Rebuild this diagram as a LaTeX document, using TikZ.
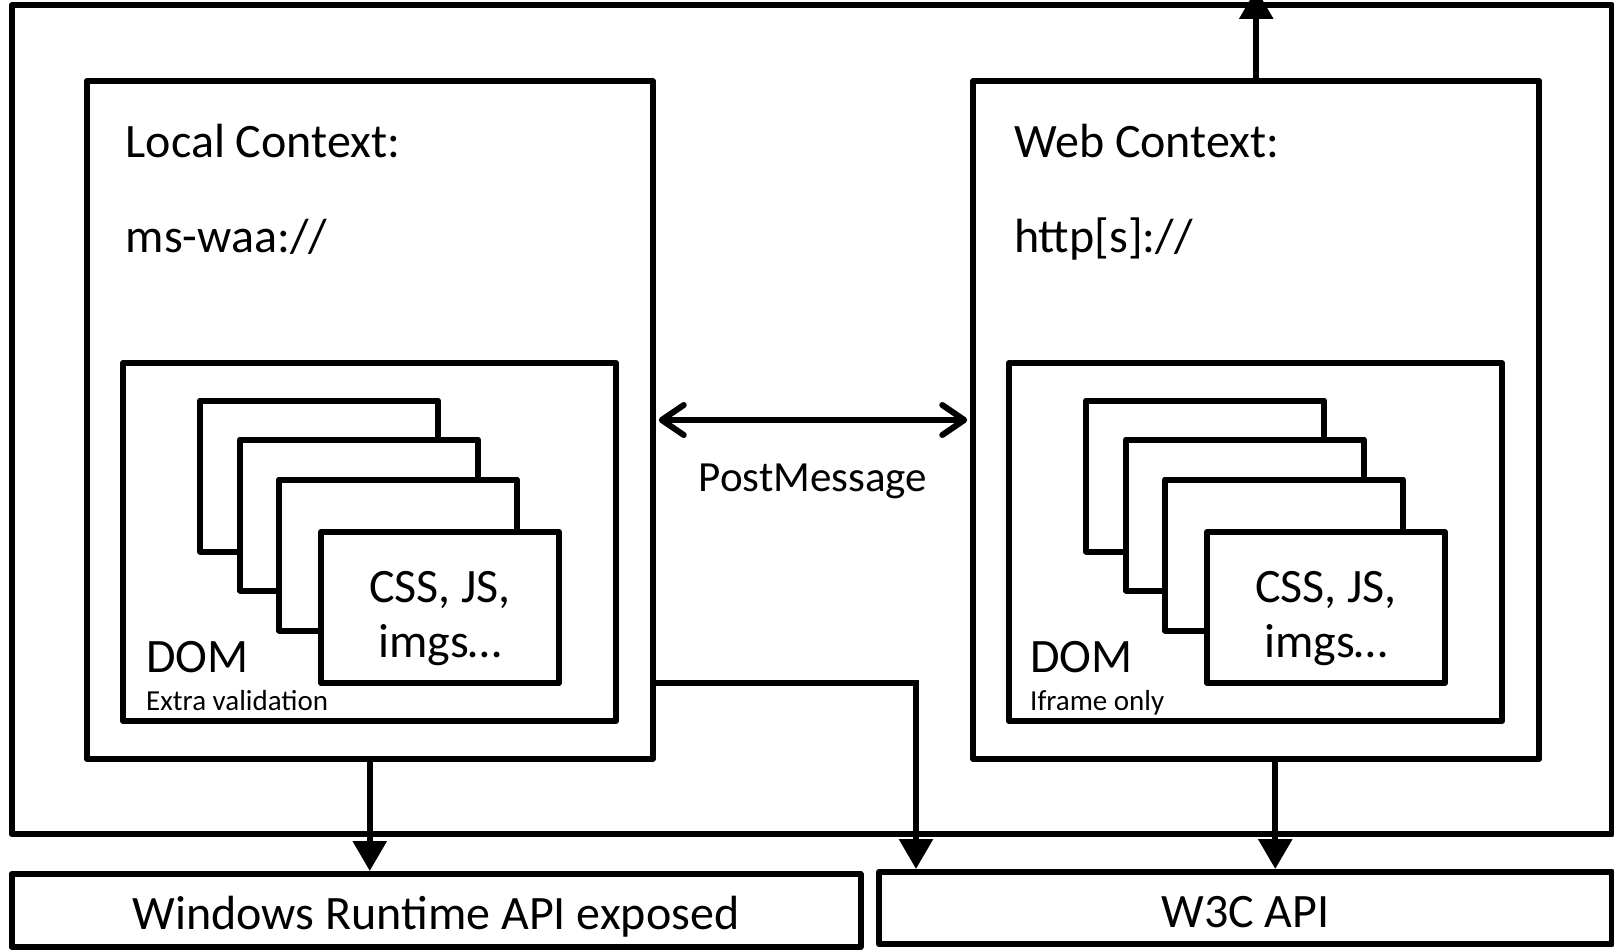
\documentclass[tikz,border=0pt]{standalone}
\usepackage{fontspec}
\setmainfont{Carlito}
\usetikzlibrary{arrows.meta}
\begin{document}
\begin{tikzpicture}[x=1pt,y=-1pt,
  frame/.style={draw, line width=6pt, line join=round, inner sep=0pt, fill=white},
  page/.style={frame, minimum width=238pt, minimum height=151pt},
  dombox/.style={frame, minimum width=493pt, minimum height=358pt},
  ctxbox/.style={frame, minimum width=566pt, minimum height=678pt},
  big/.style={inner sep=0pt, font=\fontsize{48}{55}\selectfont},
  mid/.style={inner sep=0pt, font=\fontsize{43}{50}\selectfont},
  small/.style={inner sep=0pt, font=\fontsize{29}{34}\selectfont},
  flow/.style={line width=6pt, -{Triangle[length=30pt,width=33pt]}},
  msg/.style={line width=6pt, line cap=round,
    {Straight Barb[length=22pt,width=30pt,round]}-{Straight Barb[length=22pt,width=30pt,round]}}
]
\useasboundingbox (0,0) rectangle (1614,952);

% application container
\node[frame, minimum width=1600.5pt, minimum height=828.5pt] (app) at (811.75,419.75) {};

% the two contexts
\node[ctxbox] (local) at (369.75,420) {};
\node[ctxbox] (web) at (1256.25,420) {};

\node[big, anchor=base west] (localtitle) at (125.6,157.5) {Local Context:};
\node[big, anchor=base west] (localscheme) at (125.6,252) {ms-waa://};
\node[big, anchor=base west] (webtitle) at (1014,157.5) {Web Context:};
\node[big, anchor=base west] (webscheme) at (1014,252) {http[s]://};

% DOM containers
\node[dombox] (localdom) at (369.5,542) {};
\node[dombox] (webdom) at (1255.5,542) {};

% stacked resource pages, back to front
\node[page] (lp1) at (319,476) {};
\node[page] (lp2) at (359,515) {};
\node[page] (lp3) at (398,555) {};
\node[page] (lp4) at (440,607.5) {};
\node[big, anchor=base] (lres1) at (440,602) {CSS, JS,};
\node[big, anchor=base] (lres2) at (440,657) {imgs…};

\node[page] (wp1) at (1205,476) {};
\node[page] (wp2) at (1245,515) {};
\node[page] (wp3) at (1284,555) {};
\node[page] (wp4) at (1326,607.5) {};
\node[big, anchor=base] (wres1) at (1326,602) {CSS, JS,};
\node[big, anchor=base] (wres2) at (1326,657) {imgs…};

\node[big, anchor=base west] (localdomlbl) at (146,672) {DOM};
\node[small, anchor=base west] (localnote) at (146,710) {Extra validation};
\node[big, anchor=base west] (webdomlbl) at (1030,672) {DOM};
\node[small, anchor=base west] (webnote) at (1030,710) {Iframe only};

% API layers
\node[frame, minimum width=849pt, minimum height=73pt] (winrt) at (436,910.5) {};
\node[big, anchor=base] (winrtlbl) at (436,929.5) {Windows Runtime API exposed};
\node[frame, minimum width=733pt, minimum height=72pt] (w3c) at (1245.5,908) {};
\node[big, anchor=base] (w3clbl) at (1245.5,927) {W3C API};

% messaging between contexts
\draw[msg, shorten <=3pt, shorten >=3pt] (local.east) -- (web.west);
\node[mid, anchor=base] (postmsg) at (813,491) {PostMessage};

% API access
\coordinate (exit) at (1256.25,-11);
\draw[flow] (local.south) -- (local.south |- winrt.north);
\draw[flow] ([yshift=-263pt]local.east) -| ([xshift=-329.5pt]w3c.north);
\draw[flow] ([xshift=19pt]web.south) -- ([xshift=19pt]web.south |- w3c.north);
\draw[flow] (web.north) -- (exit);
\end{tikzpicture}
\end{document}
